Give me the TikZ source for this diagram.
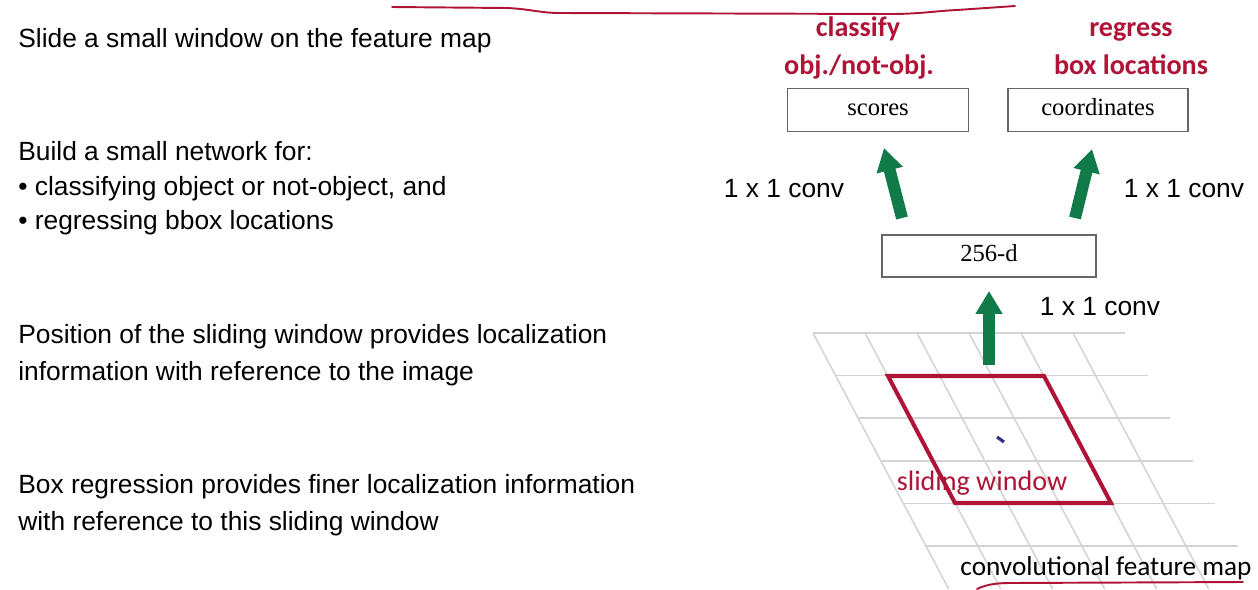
\documentclass[tikz,border=0pt]{standalone}
\usepackage{fontspec}
\setmainfont{Liberation Sans}
\newfontfamily\calfont{Carlito}
\newfontfamily\serfont{Liberation Serif}
\usetikzlibrary{arrows.meta,positioning}

\definecolor{slidered}{RGB}{175,20,55}
\definecolor{convgreen}{RGB}{16,122,72}
\definecolor{gridgray}{RGB}{212,212,212}

\tikzset{
  lefttext/.style={anchor=base west, inner sep=0pt, font=\fontsize{15}{18}\selectfont},
  convlabel/.style={anchor=base, inner sep=0pt, font=\fontsize{15}{18}\selectfont},
  redlabel/.style={anchor=base, inner sep=0pt, text=slidered, font=\calfont\bfseries\fontsize{16}{19}\selectfont},
  layerbox/.style={draw=black!60, line width=0.9pt, inner sep=0pt, text height=9.5pt, text depth=3pt, font=\serfont\fontsize{14}{16}\selectfont},
  convarrow/.style={convgreen, line width=6.8pt, -{Triangle[width=14.5pt,length=13pt]}},
  gridline/.style={gridgray, line width=0.9pt},
  penline/.style={slidered, line width=1.1pt, line cap=round},
}

\begin{document}
\begin{tikzpicture}[x=0.02cm, y=-0.02cm]
\useasboundingbox (0,0) rectangle (1258,589);

% left column
\node[lefttext] (slide) at (18,47) {Slide a small window on the feature map};
\node[lefttext] (build) at (18,160) {Build a small network for:};
\node[lefttext] (bulcls) at (18,195) {\textbullet\ classifying object or not-object, and};
\node[lefttext] (bulreg) at (18,229) {\textbullet\ regressing bbox locations};
\node[lefttext] (pos1) at (18,343) {Position of the sliding window provides localization};
\node[lefttext] (pos2) at (18,380) {information with reference to the image};
\node[lefttext] (boxr1) at (18,493) {Box regression provides finer localization information};
\node[lefttext] (boxr2) at (18,530) {with reference to this sliding window};

% feature map grid
\foreach \k in {0,...,5}
  \draw[gridline] (813+52*\k,333) -- (948.7+52*\k,589);
\foreach \j in {0,...,5}
  \draw[gridline] ({813+0.53*42.6*\j},{333+42.6*\j}) -- ++(312,0);
\draw[slidered, line width=2.3pt] (888,376) -- (1044,376) -- (1111,503) -- (955,503) -- cycle;
\draw[black!45!blue!60!gray, line width=1.8pt] (997,437) -- (1004,442);
\node[anchor=base, inner sep=0pt, text=slidered, font=\calfont\fontsize{16}{19}\selectfont] (swin) at (982,490) {sliding window};
\node[anchor=base, inner sep=0pt, font=\calfont\fontsize{15.5}{18}\selectfont] (fmap) at (1106,575) {convolutional feature map};

% small network
\node[layerbox, minimum width=3.62cm, minimum height=0.86cm] (scores) at (878,110) {scores};
\node[layerbox, minimum width=3.6cm, minimum height=0.86cm] (coords) at (1098,110) {coordinates};
\node[layerbox, minimum width=4.28cm, minimum height=0.84cm] (feat) at (989,256) {256-d};

\node[redlabel] (cls1) at (858,36) {classify};
\node[redlabel] (cls2) at (859,74) {obj./not-obj.};
\node[redlabel] (reg1) at (1131,36) {regress};
\node[redlabel] (reg2) at (1131,74) {box locations};

\node[convlabel] (convl) at (784,197) {1 x 1 conv};
\node[convlabel] (convr) at (1184,197) {1 x 1 conv};
\node[convlabel] (convm) at (1100,315) {1 x 1 conv};

\coordinate (la0) at (902,218);
\coordinate (la1) at (884,148);
\coordinate (ra0) at (1075,218);
\coordinate (ra1) at (1092,149);
\coordinate (ma0) at (989,365);
\coordinate (ma1) at (989,291);
\draw[convarrow] (la0) -- (la1);
\draw[convarrow] (ra0) -- (ra1);
\draw[convarrow] (ma0) -- (ma1);

% pen strokes
\draw[penline] (392,7) -- (507,8) .. controls (530,9) and (540,13) .. (560,13) -- (890,14) .. controls (920,14) and (935,11) .. (957,10) -- (1015,6);
\draw[penline] (977,589) .. controls (985,585) and (995,583) .. (1010,583) -- (1243,582);
\end{tikzpicture}
\end{document}
